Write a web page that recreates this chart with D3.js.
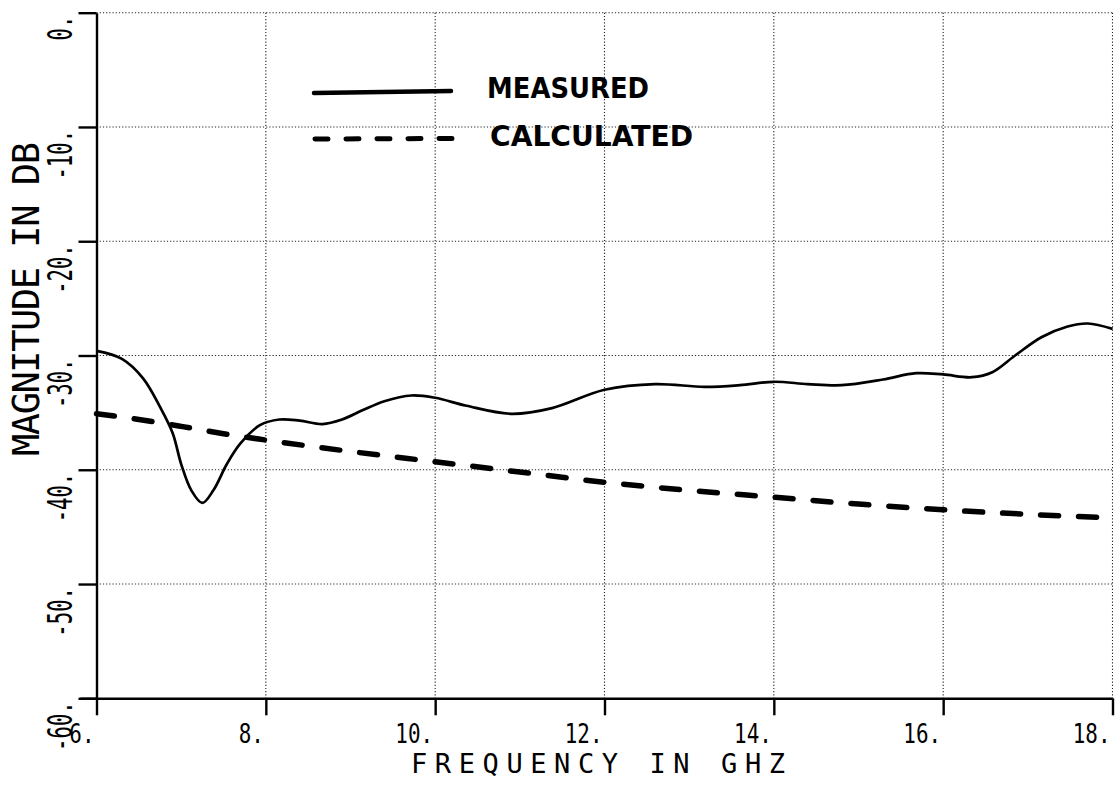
<!DOCTYPE html>
<html>
<head>
<meta charset="utf-8">
<script src="https://cdn.jsdelivr.net/npm/d3@7"></script>
<style>
  html, body { margin: 0; padding: 0; background: #fff; }
  svg { display: block; }
</style>
</head>
<body>
<svg id="chart" width="1119" height="787"></svg>
<script>
// ---- Data ----
const xTicks = [6, 8, 10, 12, 14, 16, 18];
const xTickLabels = ["6.", "8.", "10.", "12.", "14.", "16.", "18."];
const yTicks = [0, -10, -20, -30, -40, -50, -60];
const yTickLabels = ["0.", "-10.", "-20.", "-30.", "-40.", "-50.", "-60."];

const measuredFreq = [6.0, 6.3, 6.55, 6.75, 6.9, 7.0, 7.12, 7.25, 7.38, 7.54, 7.7, 7.93, 8.16, 8.4, 8.67, 8.9, 9.14, 9.4, 9.72, 10.0, 10.37, 10.9, 11.38, 12.0, 12.6, 13.18, 13.6, 14.0, 14.4, 14.8, 15.29, 15.68, 16.0, 16.34, 16.58, 16.85, 17.16, 17.47, 17.71, 18.0];
const measuredDb = [-29.6, -30.3, -32.0, -34.5, -36.8, -39.5, -41.8, -42.9, -41.8, -39.5, -37.7, -36.1, -35.6, -35.7, -36.0, -35.6, -34.8, -34.0, -33.5, -33.7, -34.4, -35.1, -34.6, -33.0, -32.5, -32.75, -32.6, -32.3, -32.5, -32.6, -32.1, -31.55, -31.66, -31.9, -31.46, -30.0, -28.4, -27.46, -27.2, -27.67];

const calcFreq = [6, 6.5, 7, 7.5, 8, 9, 10, 11, 12, 13, 14, 15, 16, 17, 18];
const calcDb = [-35.1, -35.6, -36.2, -36.85, -37.4, -38.4, -39.3, -40.2, -41.1, -41.8, -42.4, -43.0, -43.5, -43.9, -44.2];

const legendLabels = ["MEASURED", "CALCULATED"];
const xTitle = "FREQUENCY IN GHZ";
const yTitle = "MAGNITUDE IN DB";

// ---- Layout ----
const svg = d3.select("#chart");
const x = d3.scaleLinear().domain([6, 18]).range([96.5, 1112.5]);
const y = d3.scaleLinear().domain([-60, 0]).range([698.3, 12.7]);
const monoFont = "'DejaVu Sans Mono', monospace";

// gridlines
const grid = svg.append("g").attr("stroke", "#000").attr("stroke-width", 1.1)
  .attr("stroke-dasharray", "1.2,2").attr("fill", "none").attr("opacity", 0.85);
grid.selectAll("line.v").data(xTicks.filter(d => d > 6)).join("line")
  .attr("x1", d => x(d)).attr("x2", d => x(d))
  .attr("y1", y(0)).attr("y2", y(-60));
grid.selectAll("line.h").data(yTicks.filter(d => d > -60)).join("line")
  .attr("class", "h")
  .attr("x1", x(6)).attr("x2", x(18))
  .attr("y1", d => y(d)).attr("y2", d => y(d));

// axes
const yAxis = d3.axisLeft(y).tickValues(yTicks).tickSize(18).tickSizeOuter(0).tickFormat("");
const gy = svg.append("g").attr("transform", `translate(${x(6)},0)`).call(yAxis);
gy.selectAll("path, line").attr("stroke", "#000").attr("stroke-width", 2.4);

const xAxis = d3.axisBottom(x).tickValues(xTicks).tickSize(17).tickSizeOuter(0).tickFormat("");
const gx = svg.append("g").attr("transform", `translate(0,${y(-60)})`).call(xAxis);
gx.selectAll("path, line").attr("stroke", "#000").attr("stroke-width", 2.4);
gx.select("path.domain").attr("d", `M${x(6) - 16},0.5H${x(18)}`);

// x tick labels
svg.append("g").selectAll("text").data(xTicks).join("text")
  .attr("x", d => x(d) - 2)
  .attr("y", 743)
  .attr("text-anchor", "end")
  .attr("font-family", monoFont)
  .attr("font-size", 26)
  .attr("textLength", (d, i) => xTickLabels[i].length * 12.6)
  .attr("lengthAdjust", "spacingAndGlyphs")
  .text((d, i) => xTickLabels[i]);

// y tick labels (rotated)
svg.append("g").selectAll("text").data(yTicks).join("text")
  .attr("transform", d => `translate(72,${y(d) + 3}) rotate(-90)`)
  .attr("text-anchor", "end")
  .attr("font-family", monoFont)
  .attr("font-size", 34)
  .attr("textLength", (d, i) => yTickLabels[i].length * 12.4)
  .attr("lengthAdjust", "spacingAndGlyphs")
  .text((d, i) => yTickLabels[i]);

// axis titles
svg.append("text")
  .attr("x", 411).attr("y", 773)
  .attr("font-family", monoFont).attr("font-size", 27)
  .attr("textLength", 374).attr("lengthAdjust", "spacing")
  .text(xTitle);

svg.append("text")
  .attr("transform", "translate(39,456) rotate(-90)")
  .attr("font-family", monoFont).attr("font-size", 37)
  .attr("textLength", 314).attr("lengthAdjust", "spacing")
  .text(yTitle);

// series
const measured = measuredFreq.map((f, i) => [f, measuredDb[i]]);
const calculated = calcFreq.map((f, i) => [f, calcDb[i]]);
const line = d3.line().x(d => x(d[0])).y(d => y(d[1])).curve(d3.curveMonotoneX);

svg.append("path").datum(measured)
  .attr("d", d3.line().x(d => x(d[0])).y(d => y(d[1])).curve(d3.curveCatmullRom.alpha(0.5)))
  .attr("fill", "none").attr("stroke", "#000")
  .attr("stroke-width", 2.7).attr("stroke-linejoin", "round");

svg.append("path").datum(calculated)
  .attr("d", line).attr("fill", "none").attr("stroke", "#000")
  .attr("stroke-width", 5.5).attr("stroke-linecap", "round")
  .attr("stroke-dasharray", "18,20");

// legend
const legend = svg.append("g");
legend.append("line").attr("x1", 314).attr("x2", 451).attr("y1", 93).attr("y2", 91)
  .attr("stroke", "#000").attr("stroke-width", 4.5).attr("stroke-linecap", "round");
legend.append("line").attr("x1", 315).attr("x2", 452).attr("y1", 139).attr("y2", 138.5)
  .attr("stroke", "#000").attr("stroke-width", 5).attr("stroke-linecap", "round")
  .attr("stroke-dasharray", "13,18");
legend.selectAll("text").data(legendLabels).join("text")
  .attr("x", (d, i) => i === 0 ? 487 : 490)
  .attr("y", (d, i) => i === 0 ? 98 : 146)
  .attr("font-family", "'DejaVu Sans', sans-serif")
  .attr("font-weight", "bold")
  .attr("font-size", 28)
  .attr("textLength", (d, i) => i === 0 ? 162 : 203)
  .attr("lengthAdjust", "spacingAndGlyphs")
  .text(d => d);
</script>
</body>
</html>
